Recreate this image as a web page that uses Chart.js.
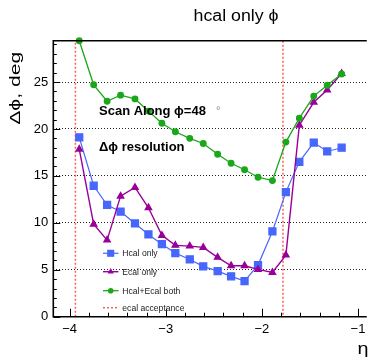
<!DOCTYPE html>
<html><head><meta charset="utf-8">
<script src="https://cdn.jsdelivr.net/npm/chart.js@4"></script>
<style>html,body{margin:0;padding:0;background:#fff;}canvas{display:block}</style>
</head><body>
<canvas id="c" width="373" height="359"></canvas>
<script>
// ---- data ----
const eta = [-3.90, -3.75, -3.61, -3.47, -3.32, -3.18, -3.04, -2.90, -2.75, -2.61,
             -2.46, -2.32, -2.18, -2.04, -1.89, -1.75, -1.61, -1.46, -1.32, -1.17];
const hcalOnly = [19.1, 13.95, 11.9, 11.2, 9.93, 8.76, 7.73, 6.78, 6.1, 5.36,
                  4.85, 4.3, 3.8, 5.5, 9.08, 13.27, 16.5, 18.55, 17.6, 18.0];
const ecalOnly = [17.85, 9.86, 8.16, 12.84, 13.77, 11.6, 8.66, 7.6, 7.52, 7.38,
                  6.32, 5.43, 5.43, 5.04, 4.72, 6.56, 20.4, 22.84, 24.15, 25.9];
const hcalEcalBoth = [29.4, 24.7, 22.95, 23.6, 23.2, 21.9, 20.6, 19.7, 19.0, 18.45,
                      17.3, 16.35, 15.65, 14.86, 14.5, 18.6, 21.15, 23.5, 24.65, 25.85];
const acceptanceEta = [-3.94, -1.78];
const legendLabels = ['Hcal only', 'Ecal only', 'Hcal+Ecal both', 'ecal acceptance'];
const titleText = 'hcal only \u03D5';
const yTitleText = '\u0394\u03D5, deg';
const xTitleText = '\u03B7';
const noteScan = 'Scan Along \u03D5=48';
const noteDeg = '\u00B0';
const noteRes = '\u0394\u03D5 resolution';
const xMin = -4.17, xMax = -0.908, yMin = 0, yMax = 29.4;

const FONT = "'Liberation Sans', Arial, Helvetica, sans-serif";
const BLUE = '#4766fb', MAG = '#990099', GREEN = '#1aa81a', RED = '#ff5c5c';

const xy = ys => eta.map((x, i) => ({x, y: ys[i]}));
const accData = [
  {x: acceptanceEta[0], y: yMin}, {x: acceptanceEta[0], y: yMax},
  {x: acceptanceEta[0], y: null},
  {x: acceptanceEta[1], y: yMax}, {x: acceptanceEta[1], y: yMin}
];

function fitText(ctx, text, cx, cy, font, targetW, rot) {
  ctx.save();
  ctx.font = font;
  const w = ctx.measureText(text).width;
  ctx.translate(cx, cy);
  if (rot) ctx.rotate(rot);
  ctx.scale(targetW / w, 1);
  ctx.textAlign = 'center';
  ctx.textBaseline = 'middle';
  ctx.fillText(text, 0, 0);
  ctx.restore();
}

function marker(ctx, style, x, y, r, color) {
  ctx.save();
  ctx.fillStyle = color; ctx.strokeStyle = color;
  ctx.beginPath();
  if (style === 'rect') {
    const s = r * Math.SQRT1_2;
    ctx.rect(x - s, y - s, 2 * s, 2 * s);
  } else if (style === 'triangle') {
    ctx.moveTo(x, y - r);
    ctx.lineTo(x + r * 0.866, y + r * 0.5);
    ctx.lineTo(x - r * 0.866, y + r * 0.5);
    ctx.closePath();
  } else {
    ctx.arc(x, y, r, 0, Math.PI * 2);
  }
  ctx.fill();
  ctx.restore();
}

const decor = {
  id: 'decor',
  afterDatasetsDraw(chart) {
    const {ctx, chartArea: a, scales: {x, y}} = chart;
    ctx.save();
    ctx.strokeStyle = '#000';
    ctx.lineWidth = 1;
    for (let k = 0; k <= 16; k++) {
      const v = -4 + k * 0.2;
      if (v > xMax) break;
      const px = Math.round(x.getPixelForValue(v)) + 0.5;
      const len = (k % 5 === 0) ? 8 : 4;
      ctx.beginPath(); ctx.moveTo(px, a.bottom); ctx.lineTo(px, a.bottom - len); ctx.stroke();
    }
    for (let v = 0; v <= 29; v++) {
      const py = Math.round(y.getPixelForValue(v)) + 0.5;
      const len = (v % 5 === 0) ? 7 : 3.5;
      ctx.beginPath(); ctx.moveTo(a.left, py); ctx.lineTo(a.left + len, py); ctx.stroke();
    }
    ctx.lineWidth = 1.6;
    ctx.beginPath();
    ctx.moveTo(a.right, a.top); ctx.lineTo(a.left, a.top);
    ctx.lineTo(a.left, a.bottom); ctx.lineTo(a.right, a.bottom);
    ctx.stroke();
    ctx.restore();
  },
  afterDraw(chart) {
    const {ctx} = chart;
    ctx.save();
    ctx.fillStyle = '#000';
    fitText(ctx, titleText, 236, 17, '16px ' + FONT, 85, 0);
    fitText(ctx, yTitleText, 16.5, 88.3, '14px ' + FONT, 73, -Math.PI / 2);
    fitText(ctx, xTitleText, 363, 350, '16px ' + FONT, 11, 0);
    ctx.font = 'bold 13px ' + FONT;
    ctx.textAlign = 'left'; ctx.textBaseline = 'alphabetic';
    ctx.fillText(noteScan, 99, 114.5);
    ctx.fillText(noteRes, 99, 151);
    ctx.fillStyle = '#888';
    ctx.font = '11px ' + FONT;
    ctx.fillText(noteDeg, 216, 114);
    const ds = chart.data.datasets;
    const rows = [253.3, 271.7, 290.7, 307.7];
    const order = [2, 1, 0, 3];
    ctx.font = '8.6px ' + FONT;
    ctx.textBaseline = 'middle';
    order.forEach((di, r) => {
      const d = ds[di];
      const yy = rows[r];
      ctx.save();
      ctx.strokeStyle = d.borderColor;
      ctx.lineWidth = d.borderWidth;
      if (d.borderDash) ctx.setLineDash(d.borderDash);
      ctx.beginPath(); ctx.moveTo(103, yy); ctx.lineTo(118.5, yy); ctx.stroke();
      ctx.restore();
      if (d.pointRadius > 0) marker(ctx, d.pointStyle, 110.7, yy, d.pointRadius, d.borderColor);
      ctx.fillStyle = '#222';
      ctx.fillText(legendLabels[r], 122.3, yy + 0.5);
    });
    ctx.restore();
  }
};

new Chart(document.getElementById('c'), {
  type: 'line',
  data: {
    datasets: [
      {label: legendLabels[2], data: xy(hcalEcalBoth), borderColor: GREEN, backgroundColor: GREEN,
       borderWidth: 1.3, pointStyle: 'circle', pointRadius: 2.8, pointHoverRadius: 2.8, clip: false},
      {label: legendLabels[1], data: xy(ecalOnly), borderColor: MAG, backgroundColor: MAG,
       borderWidth: 1.4, pointStyle: 'triangle', pointRadius: 3.6, pointHoverRadius: 3.6, clip: false},
      {label: legendLabels[0], data: xy(hcalOnly), borderColor: BLUE, backgroundColor: BLUE,
       borderWidth: 1.2, pointStyle: 'rect', pointRadius: 5, pointHoverRadius: 5, clip: false},
      {label: legendLabels[3], data: accData, borderColor: RED, backgroundColor: RED,
       borderWidth: 1.5, borderDash: [2, 2], pointRadius: 0, spanGaps: false}
    ]
  },
  options: {
    responsive: false,
    animation: false,
    events: [],
    layout: {padding: {top: 40.7, right: 0, left: 0, bottom: 0}},
    plugins: {legend: {display: false}, tooltip: {enabled: false}, title: {display: false}},
    elements: {line: {tension: 0}, point: {borderWidth: 0}},
    scales: {
      x: {
        type: 'linear', min: xMin, max: xMax,
        afterFit: s => { s.height = 359 - 316.7; },
        border: {display: false},
        grid: {display: true, color: 'rgba(0,0,0,0)', drawTicks: false, drawOnChartArea: false},
        ticks: {stepSize: 1, includeBounds: false, padding: 5, color: '#000',
                font: {family: FONT, size: 13},
                maxRotation: 0, autoSkip: false,
                callback: v => (v < 0 ? '\u2212' + Math.abs(v) : String(v))}
      },
      y: {
        type: 'linear', min: yMin, max: yMax,
        afterFit: s => { s.width = 53.3; },
        border: {display: false, dash: [1, 2]},
        grid: {display: true, drawTicks: false, lineWidth: 1,
               color: c => (c.tick && c.tick.value > 0 ? '#222' : 'rgba(0,0,0,0)')},
        ticks: {stepSize: 5, includeBounds: false, padding: 5, color: '#000',
                font: {family: FONT, size: 13}}
      }
    }
  },
  plugins: [decor]
});
</script>
</body></html>
